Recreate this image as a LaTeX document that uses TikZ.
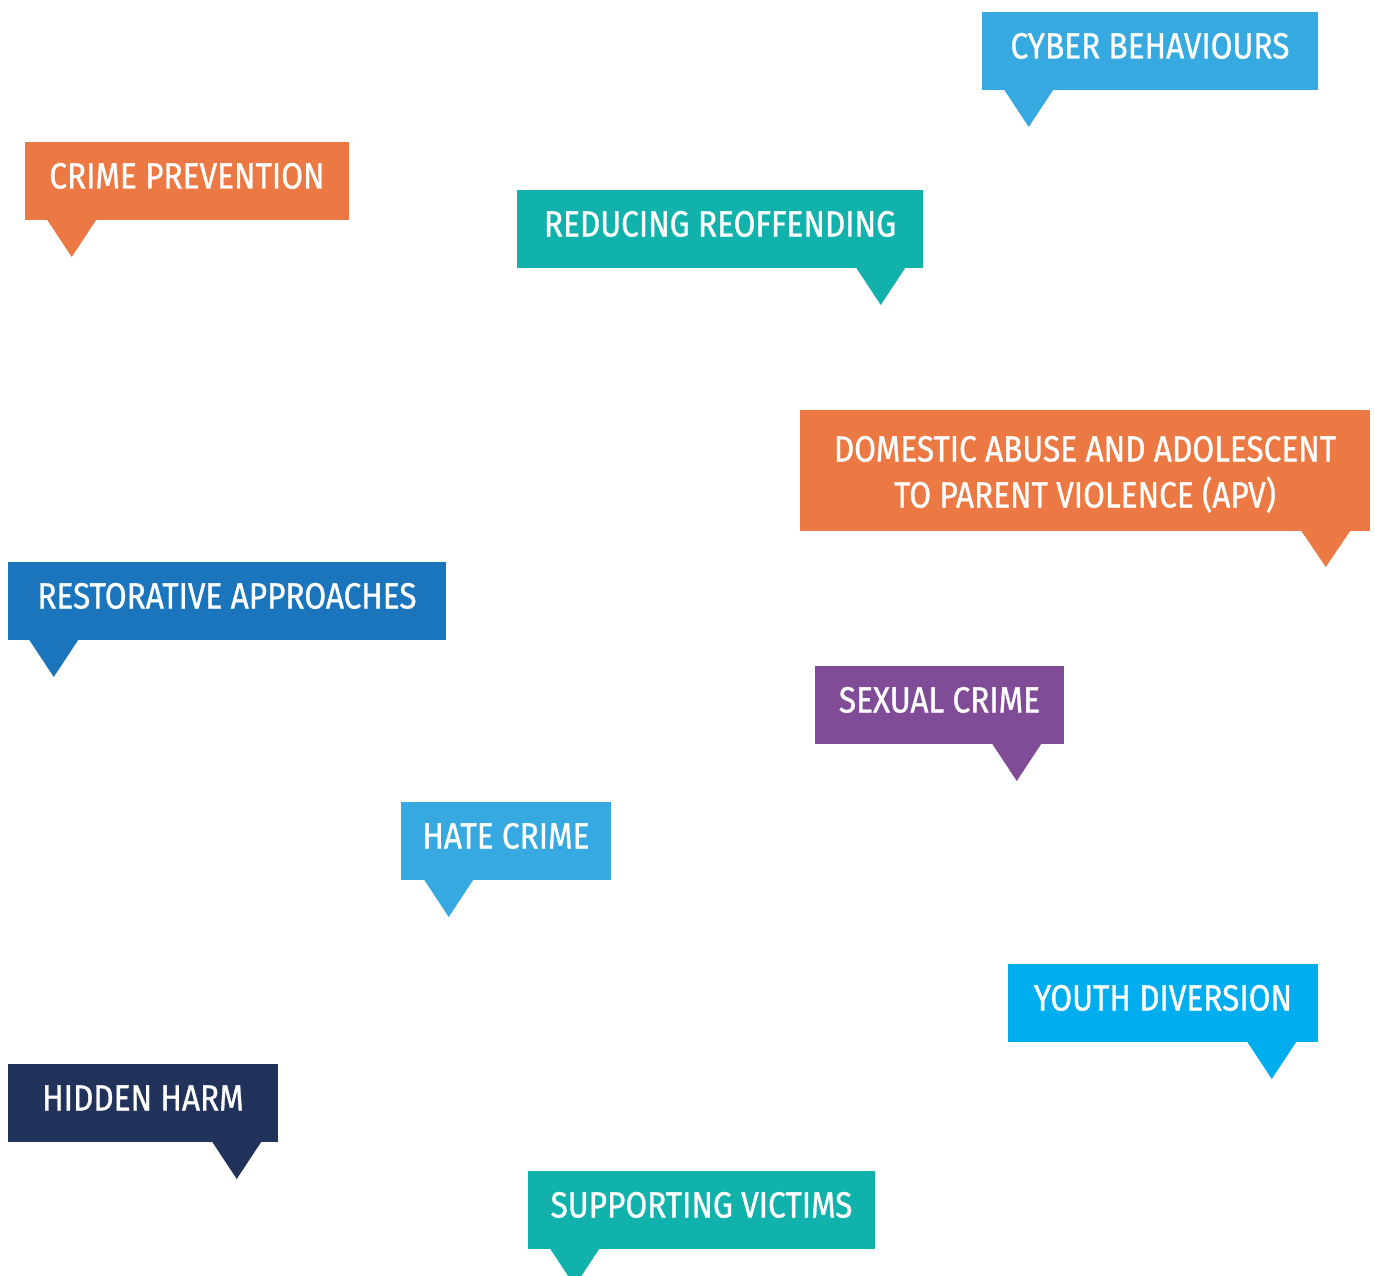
\documentclass[tikz,border=0pt]{standalone}
\usepackage{fontspec}
\setmainfont{Fira Sans}[FakeStretch=0.865, FakeBold=0.9]
\usetikzlibrary{calc}
\definecolor{skyblue}{HTML}{36A9E0}
\definecolor{orangec}{HTML}{EC7943}
\definecolor{tealc}{HTML}{11B2AC}
\definecolor{bluec}{HTML}{1B75BC}
\definecolor{purplec}{HTML}{804C97}
\definecolor{cyanc}{HTML}{00AEEF}
\definecolor{navyc}{HTML}{21325B}
\tikzset{
  bubblebox/.style={rectangle, inner sep=0pt, outer sep=0pt, draw=none},
  lbl/.style={text=white, inner sep=0pt, font=\fontsize{36.5}{46}\selectfont},
}
% name, x1, y1, x2, y2, colour, triangle left x, text
\newcommand\speech[8]{%
  \node[bubblebox, fill=#6, minimum width={#4-#2}, minimum height={#5-#3}, anchor=north west] (#1) at (#2,#3) {};
  \fill[#6] (#7,#5-0.5) -- (#7+49.5,#5-0.5) -- (#7+24.75,#5+37) -- cycle;
  \node[lbl, anchor=base] (#1-t) at ($(#1.north)+(0,46.5)$) {#8};
}
\begin{document}
\begin{tikzpicture}[x=1pt, y=-1pt]
\useasboundingbox (0,0) rectangle (1375,1276);
\clip (0,0) rectangle (1375,1276);
\speech{cyber}{982}{12}{1318}{90}{skyblue}{1004}{CYBER BEHAVIOURS}
\speech{prev}{25}{142}{349}{220}{orangec}{47}{CRIME PREVENTION}
\speech{reoff}{517}{190}{923}{268}{tealc}{856}{REDUCING REOFFENDING}
\node[bubblebox, fill=orangec, minimum width=570, minimum height=121, anchor=north west] (apv) at (800,410) {};
\fill[orangec] (1301,530.5) -- (1350.5,530.5) -- (1325.75,567) -- cycle;
\node[lbl, anchor=base] (apv-t1) at ($(apv.north)+(0,51.5)$) {DOMESTIC ABUSE AND ADOLESCENT};
\node[lbl, anchor=base] (apv-t2) at ($(apv.north)+(0,97.5)$) {TO PARENT VIOLENCE (APV)};
\speech{rest}{8}{562}{446}{640}{bluec}{29}{RESTORATIVE APPROACHES}
\speech{sex}{815}{666}{1064}{744}{purplec}{992}{SEXUAL CRIME}
\speech{hate}{401}{802}{611}{880}{skyblue}{424}{HATE CRIME}
\speech{youth}{1008}{964}{1318}{1042}{cyanc}{1247}{YOUTH DIVERSION}
\speech{hidden}{8}{1064}{278}{1142}{navyc}{212}{HIDDEN HARM}
\speech{victims}{528}{1171}{875}{1249}{tealc}{550}{SUPPORTING VICTIMS}
\end{tikzpicture}
\end{document}
